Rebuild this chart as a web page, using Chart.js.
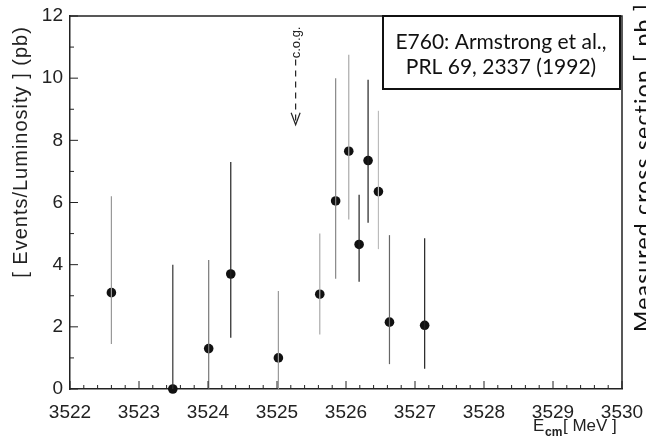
<!DOCTYPE html>
<html>
<head>
<meta charset="utf-8">
<script src="https://cdn.jsdelivr.net/npm/chart.js@4.4.1/dist/chart.umd.min.js"></script>
<style>
  html, body { margin: 0; padding: 0; background: #fff; }
  #wrap { width: 646px; height: 438px; }
</style>
</head>
<body>
<div id="wrap"><canvas id="plot" width="646" height="438"></canvas></div>
<script>
// E760 scan around 3526 MeV
const energies = [3522.60, 3523.49, 3524.01, 3524.33, 3525.02, 3525.62, 3525.85, 3526.04, 3526.19, 3526.32, 3526.47, 3526.63, 3527.14];
const values   = [3.1, 0.0, 1.3, 3.7, 1.0, 3.05, 6.05, 7.65, 4.65, 7.35, 6.35, 2.15, 2.05];
const errHigh  = [6.2, 4.0, 4.15, 7.3, 3.15, 5.0, 10.0, 10.75, 6.25, 9.95, 8.95, 4.95, 4.85];
const errLow   = [1.45, 0, 0, 1.65, 0, 1.75, 3.55, 5.45, 3.45, 5.35, 4.5, 0.8, 0.65];

const xTicks = [3522, 3523, 3524, 3525, 3526, 3527, 3528, 3529, 3530];
const yTicks = [0, 2, 4, 6, 8, 10, 12];

// c.o.g. marker (energy, text centre, dash top, arrow tip)
const cogE = 3525.27;
const cogText = 11.15, cogDashTop = 10.6, cogTip = 8.5;

// shade of each error bar, scanned plot has mixed grey lines
const barShade = ['#999', '#333', '#777', '#222', '#999', '#aaa', '#888', '#aaa', '#222', '#222', '#bbb', '#666', '#222'];

const tickFont = { family: 'Liberation Sans', size: 19 };

const datasets = [];
energies.forEach(function (e, i) {
  datasets.push({
    data: [{ x: e, y: errLow[i] }, { x: e, y: errHigh[i] }],
    showLine: true,
    borderColor: barShade[i],
    borderWidth: 1.2,
    pointRadius: 0,
    clip: false
  });
});
datasets.push({
  data: energies.map((e, i) => ({ x: e, y: values[i] })),
  pointRadius: 4.8,
  pointBackgroundColor: '#111',
  pointBorderColor: '#111',
  pointBorderWidth: 0,
  clip: false
});

const extras = {
  id: 'extras',
  afterDraw(chart) {
    const ctx = chart.ctx;
    const xs = chart.scales.x, ys = chart.scales.y;
    const a = chart.chartArea;
    ctx.save();

    // frame top / right
    ctx.strokeStyle = '#222';
    ctx.lineWidth = 1.5;
    ctx.beginPath();
    ctx.moveTo(a.left, a.top); ctx.lineTo(a.right, a.top); ctx.lineTo(a.right, a.bottom);
    ctx.stroke();

    // inward ticks
    ctx.lineWidth = 1;
    ctx.beginPath();
    for (let v = 3522; v <= 3530.001; v += 0.2) {
      const major = Math.abs(v - Math.round(v)) < 0.01;
      const px = xs.getPixelForValue(v);
      ctx.moveTo(px, a.bottom); ctx.lineTo(px, a.bottom - (major ? 8 : 4));
    }
    for (let v = 0; v <= 12; v += 1) {
      const py = ys.getPixelForValue(v);
      ctx.moveTo(a.left, py); ctx.lineTo(a.left + (v % 2 === 0 ? 8 : 4), py);
    }
    ctx.stroke();

    // c.o.g. arrow
    const cx = xs.getPixelForValue(cogE);
    ctx.fillStyle = '#222';
    ctx.font = '13px "Liberation Sans"';
    ctx.save();
    ctx.translate(cx + 4, ys.getPixelForValue(cogText));
    ctx.rotate(-Math.PI / 2);
    ctx.textAlign = 'center';
    ctx.textBaseline = 'alphabetic';
    ctx.fillText('c.o.g.', 0, 0);
    ctx.restore();
    const tipY = ys.getPixelForValue(cogTip);
    ctx.strokeStyle = '#222';
    ctx.lineWidth = 1.2;
    ctx.setLineDash([6, 5]);
    ctx.beginPath();
    ctx.moveTo(cx, ys.getPixelForValue(cogDashTop)); ctx.lineTo(cx, tipY - 3);
    ctx.stroke();
    ctx.setLineDash([]);
    ctx.beginPath();
    ctx.moveTo(cx - 4.5, tipY - 12); ctx.lineTo(cx, tipY); ctx.lineTo(cx + 4.5, tipY - 12);
    ctx.stroke();

    // reference box
    ctx.fillStyle = '#fff';
    ctx.fillRect(383, 16, 237, 73);
    ctx.strokeStyle = '#111';
    ctx.lineWidth = 2;
    ctx.strokeRect(383, 16, 237, 73);
    ctx.fillStyle = '#111';
    ctx.font = '21px Lato';
    ctx.textAlign = 'center';
    ctx.textBaseline = 'alphabetic';
    ctx.fillText('E760: Armstrong et al.,', 501, 49);
    ctx.fillText('PRL 69, 2337 (1992)', 501, 74);

    // y title
    ctx.save();
    ctx.translate(27, 152);
    ctx.rotate(-Math.PI / 2);
    ctx.font = '20px "Liberation Sans"';
    ctx.letterSpacing = '1px';
    ctx.fillStyle = '#222';
    ctx.fillText('[ Events/Luminosity ] (pb)', 0, 0);
    ctx.restore();

    // right side text, cut by the edge
    ctx.save();
    ctx.translate(651, 332);
    ctx.rotate(-Math.PI / 2);
    ctx.font = '23px Lato';
    ctx.letterSpacing = '1.2px';
    ctx.textAlign = 'left';
    ctx.fillStyle = '#111';
    ctx.fillText('Measured cross section [ pb ]', 0, 0);
    ctx.restore();

    // x title E_cm [ MeV ]
    ctx.fillStyle = '#222';
    ctx.textAlign = 'left';
    ctx.font = '17px "Liberation Sans"';
    ctx.fillText('E', 533, 431);
    ctx.font = 'bold 12px "Liberation Sans"';
    ctx.fillText('cm', 545, 436);
    ctx.font = '17px "Liberation Sans"';
    ctx.fillText('[ MeV ]', 563, 431);

    ctx.restore();
  }
};

new Chart(document.getElementById('plot'), {
  type: 'scatter',
  data: { datasets: datasets },
  options: {
    responsive: false,
    animation: false,
    devicePixelRatio: 1,
    layout: { padding: { left: 0, right: 24, top: 16, bottom: 0 } },
    plugins: { legend: { display: false }, tooltip: { enabled: false } },
    scales: {
      x: {
        type: 'linear',
        min: 3522, max: 3530,
        afterFit: function (s) { s.height = 49; s.paddingLeft = 0; s.paddingRight = 0; },
        afterBuildTicks: function (s) { s.ticks = xTicks.map(v => ({ value: v })); },
        ticks: { font: tickFont, color: '#222', padding: 12, maxRotation: 0, callback: v => String(v) },
        grid: { display: false, tickLength: 0 },
        border: { display: true, color: '#222', width: 1.5 }
      },
      y: {
        min: 0, max: 12,
        afterFit: function (s) { s.width = 70; s.paddingTop = 0; s.paddingBottom = 0; },
        afterBuildTicks: function (s) { s.ticks = yTicks.map(v => ({ value: v })); },
        ticks: { font: tickFont, color: '#222', padding: 7, callback: v => String(v) },
        grid: { display: false, tickLength: 0 },
        border: { display: true, color: '#222', width: 1.5 }
      }
    }
  },
  plugins: [extras]
});
</script>
</body>
</html>
